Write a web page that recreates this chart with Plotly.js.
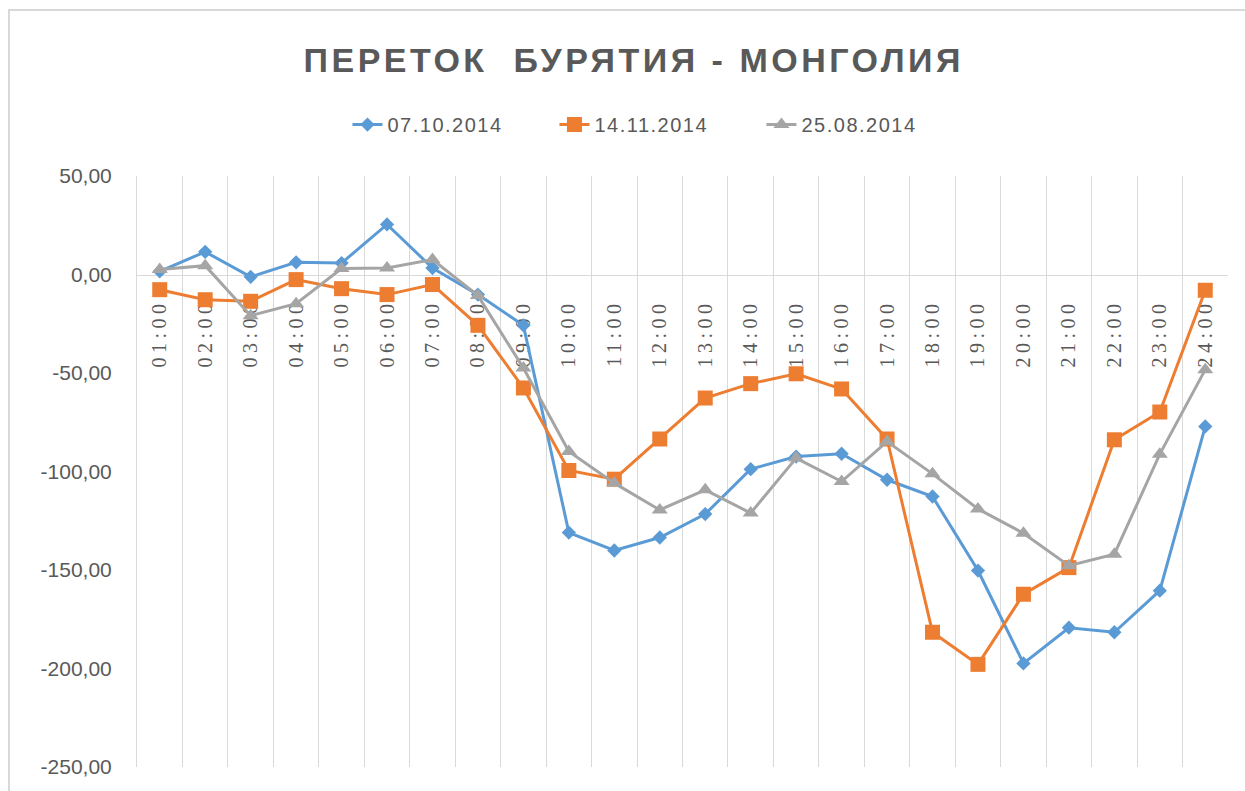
<!DOCTYPE html>
<html><head><meta charset="utf-8">
<script src="https://cdn.plot.ly/plotly-3.0.1.min.js"></script>
<style>
body{margin:0;background:#fff}
#chart{position:absolute;left:0;top:0;width:1245px;height:791px}
#frame{position:absolute;left:8px;top:9px;width:1300px;height:900px;border-left:2px solid #d9d9d9;border-top:2px solid #d9d9d9;pointer-events:none}
.xtick text{letter-spacing:4.5px}
.gtitle{letter-spacing:3.5px}
.legendtext{letter-spacing:1.5px}
</style></head><body>
<div id="chart"></div><div id="frame"></div>
<script>
const hours = ["01:00","02:00","03:00","04:00","05:00","06:00","07:00","08:00","09:00","10:00","11:00","12:00",
  "13:00","14:00","15:00","16:00","17:00","18:00","19:00","20:00","21:00","22:00","23:00","24:00"];
const seriesNames = ["07.10.2014","14.11.2014","25.08.2014"];
const s0710 = [1.6, 11.5, -1.2, 6.2, 5.8, 25.4, 3.3, -10.2, -25.8, -131.0, -140.1, -133.5,
  -121.6, -98.8, -92.4, -91.0, -104.2, -112.7, -150.3, -197.4, -179.3, -181.6, -160.5, -77.1];
const s1411 = [-7.7, -12.8, -13.6, -2.6, -7.2, -10.2, -5.1, -25.8, -57.6, -99.5, -103.9, -83.5,
  -62.7, -55.4, -50.4, -58.1, -83.5, -181.6, -197.9, -162.3, -148.8, -83.9, -69.8, -8.0];
const s2508 = [2.5, 4.5, -20.9, -14.8, 3.0, 3.3, 7.6, -10.7, -47.5, -89.8, -105.9, -119.5,
  -109.3, -121.1, -93.2, -105.1, -84.8, -101.2, -119.0, -131.3, -147.8, -142.0, -91.2, -48.3];
const yTickVals = [50, 0, -50, -100, -150, -200, -250];
const yTickText = ["50,00", "0,00", "-50,00", "-100,00", "-150,00", "-200,00", "-250,00"];
const titleText = "ПЕРЕТОК\u00a0 БУРЯТИЯ - МОНГОЛИЯ";

const yMin = -250, yMax = 50;
const colors = ["#5B9BD5", "#ED7D31", "#A5A5A5"];
const symbols = ["diamond", "square", "triangle-up"];
const sizes = [11, 15, 14];
const allSeries = [s0710, s1411, s2508];

const traces = allSeries.map((s, i) => ({
  type: "scatter", mode: "lines+markers", name: seriesNames[i],
  x: hours, y: s,
  line: {color: colors[i], width: 3},
  marker: {color: colors[i], symbol: symbols[i], size: sizes[i]}
}));

const layout = {
  width: 1245, height: 791,
  margin: {l: 137, r: 17, t: 176, b: 24},
  paper_bgcolor: "#fff", plot_bgcolor: "#fff",
  font: {family: "Liberation Sans, Arial, sans-serif", color: "#595959"},
  title: {text: titleText, x: 0.509, xref: "container", xanchor: "center",
    y: 1 - 60/791, yref: "container", yanchor: "middle",
    font: {size: 34, color: "#595959", family: "Liberation Sans, Arial, sans-serif", weight: "bold"}},
  showlegend: true,
  legend: {orientation: "h", x: 0.4775, xanchor: "center", y: 1.087, yanchor: "middle",
    font: {size: 20, color: "#595959"}, entrywidth: 162, entrywidthmode: "pixels"},
  xaxis: {type: "category", anchor: "free", position: (0 - yMin) / (yMax - yMin),
    tickson: "boundaries", showgrid: true, gridcolor: "#d9d9d9", gridwidth: 1,
    showline: true, linecolor: "#d9d9d9", linewidth: 1, ticks: "",
    tickangle: -90, ticklabelstandoff: 16, layer: "below traces",
    tickfont: {family: "Liberation Serif", size: 20, color: "#595959"},
    range: [-0.5, hours.length - 0.5], fixedrange: true},
  yaxis: {range: [yMin, yMax], tickvals: yTickVals, ticktext: yTickText,
    showgrid: false, zeroline: false, showline: true, linecolor: "#d9d9d9", linewidth: 1,
    ticks: "", ticklabelstandoff: 20,
    tickfont: {size: 21, color: "#595959"}, fixedrange: true}
};

Plotly.newPlot("chart", traces, layout, {displayModeBar: false, staticPlot: true});
</script>
</body></html>
